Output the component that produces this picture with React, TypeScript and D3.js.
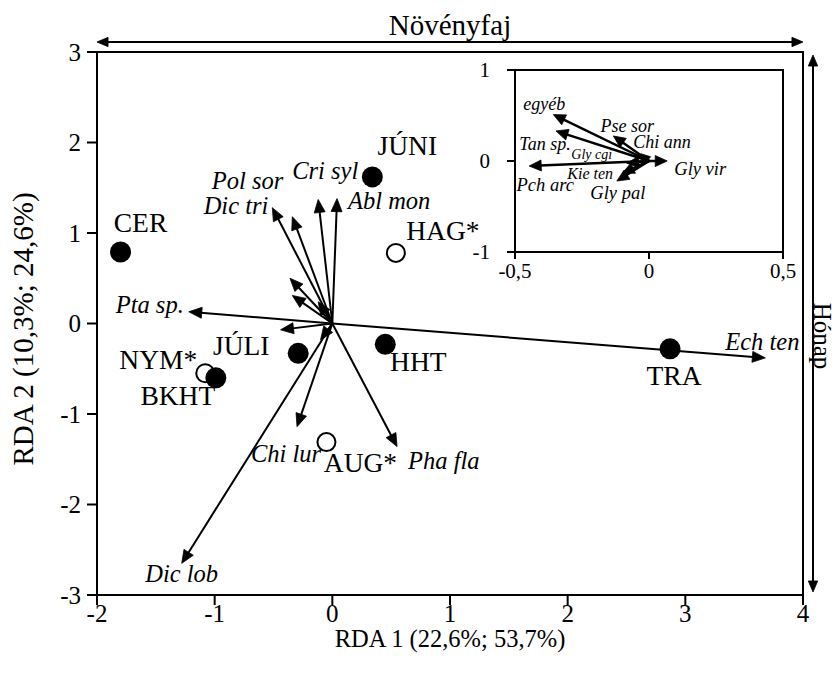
import React from "react";
import * as d3 from "d3";

const W = 838;
const H = 675;

// Site scores (RDA 1, RDA 2); starred sites drawn as open circles
const siteNames = ["CER", "JÚNI", "HAG*", "TRA", "HHT", "JÚLI", "NYM*", "BKHT", "AUG*"];
const siteRDA1 = [-1.8, 0.34, 0.54, 2.87, 0.45, -0.29, -1.08, -0.99, -0.05];
const siteRDA2 = [0.79, 1.62, 0.78, -0.28, -0.23, -0.33, -0.55, -0.6, -1.31];
const siteOpen = [false, false, true, false, false, false, true, false, true];

// Species vectors in the main ordination plane
const speciesNames = [
  "Ech ten", "Pta sp.", "Dic tri", "Pol sor", "Cri syl", "Abl mon",
  "", "", "", "", "",
  "Chi lur", "Pha fla", "Dic lob",
];
const speciesRDA1 = [3.68, -1.22, -0.51, -0.34, -0.12, 0.04, -0.36, -0.34, -0.44, -0.12, -0.1, -0.3, 0.55, -1.28];
const speciesRDA2 = [-0.38, 0.13, 1.28, 1.18, 1.37, 1.38, 0.5, 0.31, -0.07, 0.24, -0.18, -1.14, -1.36, -2.65];

// Species vectors shown in the zoomed inset
const insetNames = ["egyéb", "Tan sp.", "Pse sor", "Chi ann", "Gly vir", "Pch arc", "Gly cgi", "Kie ten", "Gly pal"];
const insetRDA1 = [-0.357, -0.347, -0.133, -0.03, 0.068, -0.447, -0.083, -0.1, -0.12];
const insetRDA2 = [0.51, 0.33, 0.275, 0.08, 0.0, -0.055, -0.025, -0.135, -0.22];

// Axis ticks
const mainXTicks = [-2, -1, 0, 1, 2, 3, 4];
const mainYTicks = [-3, -2, -1, 0, 1, 2, 3];
const insetXTicks = [-0.5, 0, 0.5];
const insetYTicks = [-1, 0, 1];
const insetTickText = (v: number) => String(v).replace(".", ",");

const xTitle = "RDA 1 (22,6%; 53,7%)";
const yTitle = "RDA 2 (10,3%; 24,6%)";
const topTitle = "Növényfaj";
const rightTitle = "Hónap";

// Label placement relative to the marker / arrow tip (pixels)
const siteLabelPos: Record<string, [number, number]> = {
  "CER": [20, -30], "JÚNI": [35, -32], "HAG*": [47, -23], "TRA": [4, 27], "HHT": [33, 17],
  "JÚLI": [-57, -8], "NYM*": [-47, -14], "BKHT": [-38, 18], "AUG*": [34, 20],
};
const speciesLabelPos: Record<string, [number, number, string]> = {
  "Ech ten": [-3, -16, "middle"], "Pta sp.": [-5, -7, "end"], "Dic tri": [-4, -2, "end"],
  "Pol sor": [-9, -36, "end"], "Cri syl": [7, -29, "middle"], "Abl mon": [11, 2, "start"],
  "Chi lur": [-11, 27, "middle"], "Pha fla": [11, 14, "start"], "Dic lob": [0, 10, "middle"],
};
const insetLabelPos: Record<string, [number, number, number]> = {
  "egyéb": [-9, -11, 18], "Tan sp.": [-11, 13, 18], "Pse sor": [14, -10, 18], "Chi ann": [21, -12, 18],
  "Gly vir": [33, 8, 18.5], "Pch arc": [16, 19, 18.5], "Gly cgi": [-35, -9, 14], "Kie ten": [-32, 0, 16],
  "Gly pal": [1, 12, 18.5],
};

const FONT = "'Liberation Serif', 'Times New Roman', serif";

function arrow(x1: number, y1: number, x2: number, y2: number, len: number, half: number) {
  const dx = x2 - x1;
  const dy = y2 - y1;
  const L = Math.hypot(dx, dy) || 1;
  const ux = dx / L;
  const uy = dy / L;
  const hl = Math.min(len, L * 0.85);
  const hw = half * (hl / len);
  const bx = x2 - ux * hl;
  const by = y2 - uy * hl;
  const px = -uy;
  const py = ux;
  const head = `M${x2},${y2}L${bx + px * hw},${by + py * hw}L${bx - px * hw},${by - py * hw}Z`;
  return { sx: bx + ux * 1, sy: by + uy * 1, head };
}

function Arrow({ x1, y1, x2, y2, len = 13, half = 5.5, sw = 2 }: any) {
  const a = arrow(x1, y1, x2, y2, len, half);
  return (
    <g>
      <line x1={x1} y1={y1} x2={a.sx} y2={a.sy} stroke="#000" strokeWidth={sw} />
      <path d={a.head} fill="#000" stroke="#000" strokeWidth={0.8} strokeLinejoin="miter" />
    </g>
  );
}

export default function App() {
  const x = d3.scaleLinear().domain([-2, 4]).range([97, 803]);
  const y = d3.scaleLinear().domain([-3, 3]).range([595, 52]);
  const ix = d3.scaleLinear().domain([-0.5, 0.5]).range([515, 783]);
  const iy = d3.scaleLinear().domain([-1, 1]).range([252, 70]);

  const ox = x(0);
  const oy = y(0);
  const iox = ix(0);
  const ioy = iy(0);

  return (
    <svg
      width={W}
      height={H}
      viewBox={`0 0 ${W} ${H}`}
      style={{ position: "absolute", left: 0, top: 0, background: "#fff" }}
      fontFamily={FONT}
    >
      <rect x={0} y={0} width={W} height={H} fill="#fff" />

      {/* main frame */}
      <rect x={x(-2)} y={y(3)} width={x(4) - x(-2)} height={y(-3) - y(3)} fill="none" stroke="#000" strokeWidth={2} />
      {mainXTicks.map((t) => (
        <g key={"xt" + t}>
          <line x1={x(t)} x2={x(t)} y1={y(-3)} y2={y(-3) + 10} stroke="#000" strokeWidth={2} />
          <text x={x(t)} y={613} dy="0.35em" textAnchor="middle" fontSize={25}>{t}</text>
        </g>
      ))}
      {mainYTicks.map((t) => (
        <g key={"yt" + t}>
          <line x1={x(-2) - 10} x2={x(-2)} y1={y(t)} y2={y(t)} stroke="#000" strokeWidth={2} />
          <text x={x(-2) - 16} y={y(t)} dy="0.35em" textAnchor="end" fontSize={25}>{t}</text>
        </g>
      ))}
      <text x={(x(-2) + x(4)) / 2} y={638} dy="0.35em" textAnchor="middle" fontSize={24.5}>{xTitle}</text>
      <text transform={`translate(23,329) rotate(-90)`} dy="0.35em" textAnchor="middle" fontSize={29}>{yTitle}</text>

      {/* group arrows */}
      <Arrow x1={x(-2) + 13} y1={42} x2={x(-2)} y2={42} />
      <Arrow x1={x(4) - 13} y1={42} x2={x(4)} y2={42} />
      <line x1={x(-2) + 12} x2={x(4) - 12} y1={42} y2={42} stroke="#000" strokeWidth={2} />
      <text x={(x(-2) + x(4)) / 2} y={25} dy="0.35em" textAnchor="middle" fontSize={29}>{topTitle}</text>

      <Arrow x1={813} y1={y(3) + 16} x2={813} y2={y(3) + 3} />
      <Arrow x1={813} y1={y(-3) - 16} x2={813} y2={y(-3) - 3} />
      <line x1={813} x2={813} y1={y(3) + 15} y2={y(-3) - 15} stroke="#000" strokeWidth={2} />
      <text transform={`translate(823,336) rotate(90)`} dy="0.35em" textAnchor="middle" fontSize={25}>{rightTitle}</text>

      {/* species vectors */}
      {speciesNames.map((n, i) => (
        <Arrow key={"sp" + i} x1={ox} y1={oy} x2={x(speciesRDA1[i])} y2={y(speciesRDA2[i])} />
      ))}
      {speciesNames.map((n, i) => {
        if (!n) return null;
        const p = speciesLabelPos[n];
        return (
          <text key={"spl" + i} x={x(speciesRDA1[i]) + p[0]} y={y(speciesRDA2[i]) + p[1]} dy="0.35em"
            textAnchor={p[2] as any} fontSize={24.5} fontStyle="italic">{n}</text>
        );
      })}

      {/* sites */}
      {siteNames.map((n, i) => (
        <circle key={"st" + i} cx={x(siteRDA1[i])} cy={y(siteRDA2[i])} r={siteOpen[i] ? 9 : 10.5}
          fill={siteOpen[i] ? "#fff" : "#000"} stroke="#000" strokeWidth={siteOpen[i] ? 2 : 0} />
      ))}
      {siteNames.map((n, i) => {
        const p = siteLabelPos[n];
        return (
          <text key={"stl" + i} x={x(siteRDA1[i]) + p[0]} y={y(siteRDA2[i]) + p[1]} dy="0.35em"
            textAnchor="middle" fontSize={27.5}>{n}</text>
        );
      })}

      {/* inset */}
      <rect x={ix(-0.5)} y={iy(1)} width={ix(0.5) - ix(-0.5)} height={iy(-1) - iy(1)} fill="#fff" stroke="#000" strokeWidth={2} />
      {insetXTicks.map((t) => (
        <g key={"ixt" + t}>
          <line x1={ix(t)} x2={ix(t)} y1={iy(-1)} y2={iy(-1) + 7} stroke="#000" strokeWidth={2} />
          <text x={ix(t)} y={iy(-1) + 19} dy="0.35em" textAnchor="middle" fontSize={21}>{insetTickText(t)}</text>
        </g>
      ))}
      {insetYTicks.map((t) => (
        <g key={"iyt" + t}>
          <line x1={ix(-0.5) - 8} x2={ix(-0.5)} y1={iy(t)} y2={iy(t)} stroke="#000" strokeWidth={2} />
          <text x={ix(-0.5) - 25} y={iy(t)} dy="0.35em" textAnchor="end" fontSize={21}>{t}</text>
        </g>
      ))}
      {insetNames.map((n, i) => (
        <Arrow key={"ia" + i} x1={iox} y1={ioy} x2={ix(insetRDA1[i])} y2={iy(insetRDA2[i])} len={12} half={5.5} sw={2.5} />
      ))}
      {insetNames.map((n, i) => {
        const p = insetLabelPos[n];
        return (
          <text key={"il" + i} x={ix(insetRDA1[i]) + p[0]} y={iy(insetRDA2[i]) + p[1]} dy="0.35em"
            textAnchor="middle" fontSize={p[2]} fontStyle="italic">{n}</text>
        );
      })}
    </svg>
  );
}
